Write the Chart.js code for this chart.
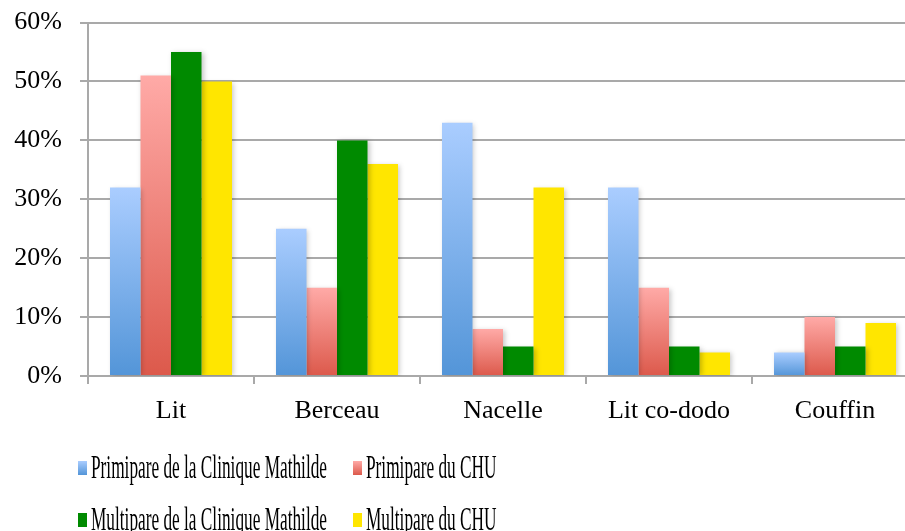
<!DOCTYPE html>
<html>
<head>
<meta charset="utf-8">
<script src="https://cdn.jsdelivr.net/npm/chart.js@4.4.1/dist/chart.umd.min.js"></script>
<style>
  html, body { margin: 0; padding: 0; background: #fff; overflow: hidden; }
  #wrap { width: 930px; height: 542px; margin-top: -11px; }
</style>
</head>
<body>
<div id="wrap"><canvas id="chart" width="930" height="542"></canvas></div>
<script>
// data (percent)
const categories = ['Lit', 'Berceau', 'Nacelle', 'Lit co-dodo', 'Couffin'];
const primiClinique = [32, 25, 43, 32, 4];
const primiCHU = [51, 15, 8, 15, 10];
const multiClinique = [55, 40, 5, 5, 5];
const multiCHU = [50, 36, 32, 4, 9];
const seriesNames = [
    'Primipare de la Clinique Mathilde',
    'Primipare du CHU',
    'Multipare de la Clinique Mathilde',
    'Multipare du CHU'
];
const yMax = 60;
const yStep = 10;

const GRID = '#a9a9a9';
const SHIFT = 11; // canvas is pulled up by this many px

// vertical gradient over each bar, light at the top
function barGradient(top, bottom) {
    return (ctx) => {
        const chart = ctx.chart;
        if (!chart.chartArea || ctx.type !== 'data') return bottom;
        const y = chart.scales.y;
        const yTop = y.getPixelForValue(ctx.raw);
        const yBase = y.getPixelForValue(0);
        if (!isFinite(yTop) || yTop === yBase) return bottom;
        const g = chart.ctx.createLinearGradient(0, yTop, 0, yBase);
        g.addColorStop(0, top);
        g.addColorStop(1, bottom);
        return g;
    };
}

const colorStops = [
    ['#aacdff', '#5395d8'],
    ['#ffaaa7', '#dc594b'],
    ['#008a00', '#008a00'],
    ['#ffe600', '#ffe600']
];

const barShadow = {
    id: 'barShadow',
    beforeDatasetsDraw(chart) {
        const c = chart.ctx;
        c.save();
        c.shadowColor = 'rgba(0,0,0,0.22)';
        c.shadowBlur = 5;
        c.shadowOffsetX = 2;
        c.shadowOffsetY = 1;
    },
    afterDatasetsDraw(chart) {
        chart.ctx.restore();
    }
};

// two-column legend at the bottom, condensed serif text
const bottomLegend = {
    id: 'bottomLegend',
    afterDraw(chart) {
        const c = chart.ctx;
        const cols = [78, 353];
        const rows = [468 + SHIFT, 520 + SHIFT];
        c.save();
        c.font = '33px "Liberation Serif"';
        const squeeze = 236 / c.measureText(seriesNames[0]).width;
        seriesNames.forEach((name, i) => {
            const x = cols[i % 2];
            const yc = rows[Math.floor(i / 2)];
            const g = c.createLinearGradient(0, yc - 7, 0, yc + 7);
            g.addColorStop(0, colorStops[i][0]);
            g.addColorStop(1, colorStops[i][1]);
            c.fillStyle = g;
            c.fillRect(x, yc - 7, 9, 14);
            c.fillStyle = '#000';
            c.textBaseline = 'middle';
            c.textAlign = 'left';
            c.save();
            c.translate(x + 13, yc + 1);
            c.scale(squeeze, 1);
            c.fillText(name, 0, 0);
            c.restore();
        });
        c.restore();
    }
};

const tickFont = { family: '"Liberation Serif"', size: 26 };

const ctx = document.getElementById('chart');
new Chart(ctx, {
    type: 'bar',
    data: {
        labels: categories,
        datasets: [primiClinique, primiCHU, multiClinique, multiCHU].map((d, i) => ({
            label: seriesNames[i],
            data: d,
            backgroundColor: barGradient(colorStops[i][0], colorStops[i][1]),
            borderWidth: 0,
            categoryPercentage: 0.735,
            barPercentage: 1
        }))
    },
    options: {
        responsive: false,
        animation: false,
        layout: { padding: { top: 3, right: 12, left: 0, bottom: 0 } },
        plugins: {
            legend: { display: false },
            tooltip: { enabled: false }
        },
        scales: {
            x: {
                afterFit: (s) => { s.height = 155; },
                grid: {
                    drawOnChartArea: false,
                    drawTicks: true,
                    tickLength: 8,
                    color: GRID,
                    lineWidth: 2
                },
                border: { display: true, color: GRID, width: 2 },
                ticks: {
                    color: '#000',
                    padding: 12,
                    font: tickFont
                }
            },
            y: {
                min: 0,
                max: yMax,
                afterFit: (s) => { s.width = 88; },
                grid: {
                    color: GRID,
                    lineWidth: 2,
                    tickLength: 8
                },
                border: { display: true, color: GRID, width: 2 },
                ticks: {
                    stepSize: yStep,
                    color: '#000',
                    padding: 18,
                    font: tickFont,
                    callback: (v) => v + '%'
                }
            }
        }
    },
    plugins: [barShadow, bottomLegend]
});
</script>
</body>
</html>
